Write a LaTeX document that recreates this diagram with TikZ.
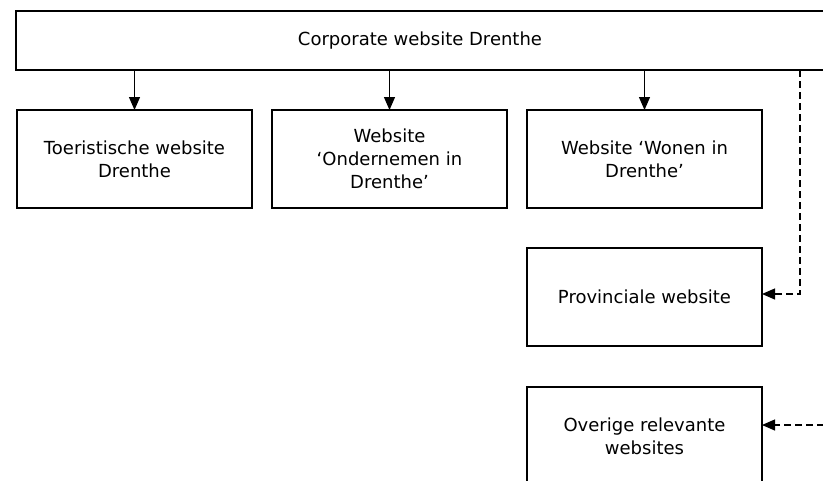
\documentclass[tikz,border=0pt]{standalone}
\usepackage{fontspec}
\setmainfont{DejaVu Sans}
\usetikzlibrary{arrows.meta, positioning, calc}

\begin{document}
\begin{tikzpicture}[
    x=1pt, y=1pt,
    font=\fontsize{18}{23}\selectfont,
    banner/.style={rectangle, draw, line width=1.2pt, outer sep=0pt, minimum width=808pt, minimum height=59pt},
    site/.style={rectangle, draw, line width=1.2pt, outer sep=0pt, align=center, minimum width=235pt, minimum height=98pt},
    line/.style={draw, line width=1.2pt, -{Triangle[width=11pt, length=13pt]}},
    dashedline/.style={line, dash pattern=on 7pt off 4pt}
]
    \useasboundingbox (0,0) rectangle (823,-480);

    % top bar, running off the right edge
    \node[banner] (corp) at (420,-40.5) {Corporate website Drenthe};

    % row of three sites under the bar
    \node[site] (tour) at (134.5,-159) {Toeristische website\\Drenthe};
    \node[site, right=20pt of tour] (firm) {Website\\‘Ondernemen in\\Drenthe’};
    \node[site, right=20pt of firm] (home) {Website ‘Wonen in\\Drenthe’};

    % column under the third site
    \node[site, below=40pt of home] (prov) {Provinciale website};
    \node[site, below=41pt of prov] (other) {Overige relevante\\websites};

    % loose ends of the dashed links
    \coordinate (split) at ($(corp.south east)+(-24,0)$);
    \coordinate (edge) at ([yshift=11pt]other.east -| corp.east);

    % arrows
    \path[line] (corp.south -| tour) -- (tour);
    \path[line] (corp.south -| firm) -- (firm);
    \path[line] (corp.south -| home) -- (home);
    \path[dashedline] (split) |- ([yshift=3pt]prov.east);
    \path[dashedline] (edge) -- ([yshift=11pt]other.east);

\end{tikzpicture}
\end{document}
